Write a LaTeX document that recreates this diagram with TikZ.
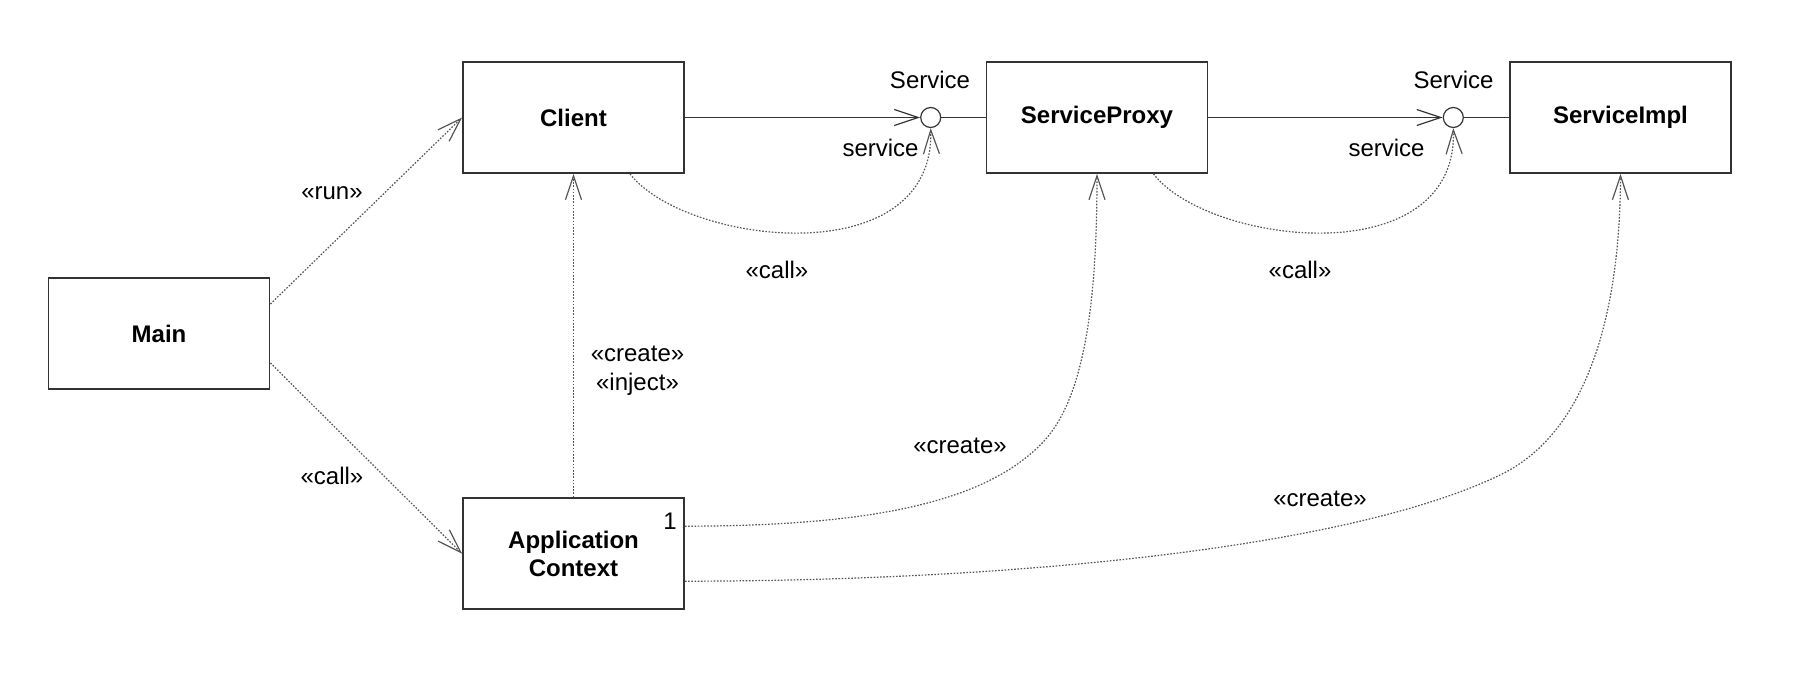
\documentclass[tikz,border=0pt]{standalone}
\usepackage{fontspec}
\setmainfont{Liberation Sans}
\usetikzlibrary{arrows.meta}
\definecolor{linegray}{HTML}{333333}
\definecolor{dotgray}{HTML}{555555}
\tikzset{
  classbox/.style={draw=linegray, line width=0.9pt, minimum width=110.5pt, minimum height=55.5pt,
    inner sep=0pt, align=center, font=\fontsize{12}{14}\selectfont\bfseries},
  iface/.style={circle, draw=linegray, line width=0.6pt, minimum size=10pt, inner sep=0pt},
  lbl/.style={inner sep=0pt, anchor=base, font=\fontsize{12}{14.5}\selectfont},
  barb/.style={-{Straight Barb[length=12pt,width=8pt]}},
  assoc/.style={draw=linegray, line width=0.6pt},
  dep/.style={draw=dotgray, line width=0.6pt, dash pattern=on 0.8pt off 0.8pt},
}
\begin{document}
\begin{tikzpicture}[x=0.5pt,y=-0.5pt]
\useasboundingbox (0,0) rectangle (1794,678);

\node [classbox] (client) at (573.5,117.5) {Client};
\node [classbox] (proxy) at (1097,117.5) {ServiceProxy};
\node [classbox] (impl) at (1620.5,117.5) {ServiceImpl};
\node [classbox] (main) at (159,333.5) {Main};
\node [classbox] (context) at (573.5,553.7) {Application\\Context};
\node [iface] (svc1) at (930.7,117.5) {};
\node [iface] (svc2) at (1453.3,117.5) {};

\draw [assoc, barb] (client) -- (svc1);
\draw [assoc] (svc1) -- (proxy);
\draw [assoc, barb] (proxy) -- (svc2);
\draw [assoc] (svc2) -- (impl);

\draw [dep, barb] ([yshift=14.75pt]main.east) -- (client.west);
\draw [dep, barb] ([yshift=-14.75pt]main.east) -- (context.west);
\draw [dep, barb] (context) -- (client);
\draw [dep, barb] ([xshift=28.25pt]client.south) .. controls (685,245) and (935,275) .. (svc1.south);
\draw [dep, barb] ([xshift=28.25pt]proxy.south) .. controls (1208,245) and (1458,275) .. (svc2.south);
\draw [dep, barb] ([yshift=13.75pt]context.east) .. controls (880,526) and (990,500) .. (1045,440)
  .. controls (1085,395) and (1097,300) .. (proxy.south);
\draw [dep, barb] ([yshift=-13.75pt]context.east) .. controls (1000,581) and (1345,550) .. (1500,475)
  .. controls (1580,437) and (1620,330) .. (impl.south);

\node [lbl] (svcname1) at (930,88.3) {Service};
\node [lbl] (svcrole1) at (880.5,156.7) {service};
\node [lbl] (svcname2) at (1453.5,88.3) {Service};
\node [lbl] (svcrole2) at (1386.5,156.7) {service};
\node [lbl] (runlbl) at (332,200) {«run»};
\node [lbl] (calllbl1) at (332,485) {«call»};
\node [lbl] (calllbl2) at (777,278.3) {«call»};
\node [lbl] (calllbl3) at (1300,278.3) {«call»};
\node [lbl] (createlbl1) at (637.5,361.7) {«create»};
\node [lbl] (injectlbl) at (637.5,390.7) {«inject»};
\node [lbl] (createlbl2) at (960,453.3) {«create»};
\node [lbl] (createlbl3) at (1320,507) {«create»};
\node [lbl] (mult) at (670,530) {1};
\end{tikzpicture}
\end{document}
